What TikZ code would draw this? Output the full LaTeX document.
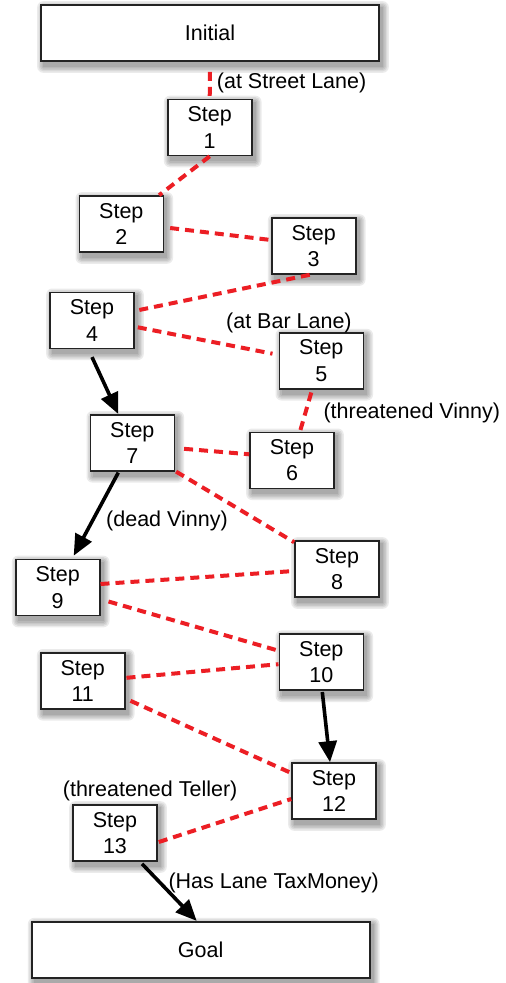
\documentclass[tikz,border=0pt]{standalone}
\usepackage{fontspec}
\setmainfont{Liberation Sans}
\usetikzlibrary{arrows.meta,backgrounds}
\definecolor{dred}{RGB}{236,30,36}
\definecolor{bord}{RGB}{35,35,35}
\begin{document}
\begin{tikzpicture}[x=1pt,y=-1pt,
  box/.style={draw=bord,line width=1.6pt,fill=white,inner sep=0pt,align=center,
    font=\fontsize{21.5}{26.5}\selectfont},
  stepbox/.style={box,minimum width=84pt,minimum height=56pt},
  bigbox/.style={box,minimum width=338pt,minimum height=56pt},
  dep/.style={draw=dred,line width=4pt,dash pattern=on 9pt off 6pt},
  caus/.style={draw=black,line width=3.6pt,-{Triangle[length=21pt,width=18pt]}},
  lbl/.style={anchor=west,inner sep=0pt,font=\fontsize{21.5}{25}\selectfont},
  shad/.style={fill=black,opacity=0.08}]
\useasboundingbox (0,0) rectangle (506,983);
\node[bigbox] (I) at (210,33) {Initial};
\node[stepbox] (S1) at (209.7,127.5) {Step\\1};
\node[stepbox] (S2) at (121.3,224) {Step\\2};
\node[stepbox] (S3) at (313.7,246) {Step\\3};
\node[stepbox] (S4) at (92,320.3) {Step\\4};
\node[stepbox] (S5) at (321.3,360.7) {Step\\5};
\node[stepbox] (S6) at (292,460.3) {Step\\6};
\node[stepbox] (S7) at (132.3,442.8) {Step\\7};
\node[stepbox] (S8) at (337,569) {Step\\8};
\node[stepbox] (S9) at (57.7,587.5) {Step\\9};
\node[stepbox] (S10) at (321.3,662.2) {Step\\10};
\node[stepbox] (S11) at (82.7,680.8) {Step\\11};
\node[stepbox] (S12) at (334,791) {Step\\12};
\node[stepbox] (S13) at (115,833) {Step\\13};
\node[bigbox] (G) at (200.7,949.7) {Goal};
% soft drop shadows
\begin{scope}[on background layer]
\foreach \n in {I,S1,S2,S3,S4,S5,S6,S7,S8,S9,S10,S11,S12,S13,G}{
  \foreach \r in {0,1.5,3,4.5,6}{
    \fill[shad,rounded corners=\r pt]
      ([xshift=3pt-\r pt,yshift=-3pt+\r pt]\n.north west) rectangle
      ([xshift=3pt+\r pt,yshift=-5pt-\r pt]\n.south east);
  }
}
\end{scope}
% dependency links
\draw[dep] ([yshift=-10pt]I.south) -- (S1.north);
\draw[dep] (S1.south) -- ([xshift=-5pt]S2.north east);
\draw[dep] ([xshift=6pt,yshift=-4pt]S2.east) -- ([yshift=6pt]S3.west);
\draw[dep] ([xshift=-4pt]S3.south) -- ([xshift=3pt,yshift=10pt]S4.east);
\draw[dep] ([xshift=3pt,yshift=-7pt]S4.east) -- ([xshift=-6pt,yshift=7pt]S5.west);
\draw[dep] ([xshift=-10pt,yshift=-3pt]S5.south) -- ([xshift=8pt]S6.north);
\draw[dep] ([xshift=9pt,yshift=-6pt]S7.east) -- ([yshift=6pt]S6.west);
\draw[dep] ([xshift=1pt]S7.south east) -- ([yshift=-2pt]S8.north west);
\draw[dep] ([yshift=3.5pt]S9.east) -- ([yshift=-2pt]S8.west);
\draw[dep] ([xshift=8pt,yshift=-14pt]S9.east) -- ([yshift=11.5pt]S10.west);
\draw[dep] ([xshift=1pt,yshift=3pt]S11.east) -- ([yshift=-2pt]S10.west);
\draw[dep] ([xshift=5pt,yshift=-20pt]S11.east) -- ([yshift=18pt]S12.west);
\draw[dep] ([xshift=1pt,yshift=-9pt]S13.east) -- ([yshift=-8pt]S12.west);
% causal arrows
\draw[caus] ([yshift=-8pt]S4.south) -- ([xshift=-14pt]S7.north);
\draw[caus] ([xshift=-14pt,yshift=-1pt]S7.south) -- ([xshift=16pt,yshift=3pt]S9.north);
\draw[caus] ([xshift=1pt,yshift=-1pt]S10.south) -- ([xshift=-4pt]S12.north);
\draw[caus] ([xshift=27pt,yshift=-2pt]S13.south) -- ([xshift=-4pt]G.north);
% labels
\node[lbl] (l1) at (216.7,82.7) {(at Street Lane)};
\node[lbl] (l2) at (226,322.7) {(at Bar Lane)};
\node[lbl] (l3) at (323.3,413.3) {(threatened Vinny)};
\node[lbl] (l4) at (106,520.7) {(dead Vinny)};
\node[lbl] (l5) at (62.7,790.7) {(threatened Teller)};
\node[lbl] (l6) at (168.3,883.3) {(Has Lane TaxMoney)};
\end{tikzpicture}
\end{document}
